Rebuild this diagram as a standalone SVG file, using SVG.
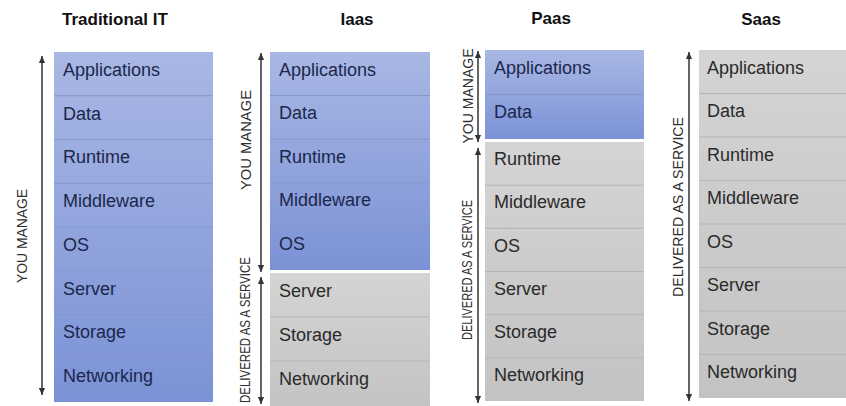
<svg xmlns="http://www.w3.org/2000/svg" width="846" height="406" viewBox="0 0 846 406">
<defs>
  <linearGradient id="blueG" x1="0" y1="0" x2="0" y2="1">
    <stop offset="0" stop-color="#a9b7e3"/>
    <stop offset="1" stop-color="#7b92d6"/>
  </linearGradient>
  <linearGradient id="grayG" x1="0" y1="0" x2="0" y2="1">
    <stop offset="0" stop-color="#d4d4d4"/>
    <stop offset="1" stop-color="#c3c3c3"/>
  </linearGradient>
  <marker id="ah" viewBox="0 0 8 7" markerWidth="7" markerHeight="7" refX="8" refY="3.5" orient="auto-start-reverse" markerUnits="userSpaceOnUse">
    <path d="M0,0 L8,3.5 L0,7 z" fill="#333"/>
  </marker>
  <style>
    .title{font-family:"Liberation Sans",Arial,sans-serif;font-weight:bold;font-size:17px;fill:#111}
    .bt{font-family:"Liberation Sans",Arial,sans-serif;font-size:18px;fill:#1b274d}
    .gt{font-family:"Liberation Sans",Arial,sans-serif;font-size:18px;fill:#2a2a2a}
    .side{font-family:"Liberation Sans",Arial,sans-serif;font-size:15px;fill:#2f2f2f;text-anchor:middle;dominant-baseline:central}
    .bsep{stroke:#8596cc;stroke-width:1}
    .gsep{stroke:#b5b5b5;stroke-width:1}
    .arr{stroke:#333;stroke-width:1.5;fill:none;marker-start:url(#ah);marker-end:url(#ah)}
  </style>
</defs>
<rect width="846" height="406" fill="#ffffff"/>

<!-- Titles -->
<text class="title" x="62" y="25">Traditional IT</text>
<text class="title" x="357" y="25" text-anchor="middle">Iaas</text>
<text class="title" x="551" y="24" text-anchor="middle">Paas</text>
<text class="title" x="761" y="25" text-anchor="middle">Saas</text>

<!-- Traditional IT -->
<g id="traditional-it">
  <rect x="54" y="52" width="159" height="350" fill="url(#blueG)"/>
  <g class="bsep">
    <line x1="54" y1="95.75" x2="213" y2="95.75"/><line x1="54" y1="139.5" x2="213" y2="139.5"/>
    <line x1="54" y1="183.25" x2="213" y2="183.25"/><line x1="54" y1="227" x2="213" y2="227"/>
    <line x1="54" y1="270.75" x2="213" y2="270.75"/><line x1="54" y1="314.5" x2="213" y2="314.5"/>
    <line x1="54" y1="358.25" x2="213" y2="358.25"/>
  </g>
  <g id="trad-applications"><text class="bt" x="63" y="76">Applications</text></g>
  <g id="trad-data"><text class="bt" x="63" y="119.5">Data</text></g>
  <g id="trad-runtime"><text class="bt" x="63" y="163.3">Runtime</text></g>
  <g id="trad-middleware"><text class="bt" x="63" y="207">Middleware</text></g>
  <g id="trad-os"><text class="bt" x="63" y="250.8">OS</text></g>
  <g id="trad-server"><text class="bt" x="63" y="294.5">Server</text></g>
  <g id="trad-storage"><text class="bt" x="63" y="338.3">Storage</text></g>
  <g id="trad-networking"><text class="bt" x="63" y="382">Networking</text></g>
</g>

<!-- IaaS -->
<g id="iaas">
  <rect x="270" y="52" width="160" height="218" fill="url(#blueG)"/>
  <g class="bsep">
    <line x1="270" y1="95.6" x2="430" y2="95.6"/><line x1="270" y1="139.2" x2="430" y2="139.2"/>
    <line x1="270" y1="182.8" x2="430" y2="182.8"/><line x1="270" y1="226.4" x2="430" y2="226.4"/>
  </g>
  <rect x="270" y="273" width="160" height="136" fill="url(#grayG)"/>
  <g class="gsep">
    <line x1="270" y1="317" x2="430" y2="317"/><line x1="270" y1="361" x2="430" y2="361"/>
  </g>
  <g id="iaas-applications"><text class="bt" x="279" y="75.5">Applications</text></g>
  <g id="iaas-data"><text class="bt" x="279" y="119">Data</text></g>
  <g id="iaas-runtime"><text class="bt" x="279" y="162.5">Runtime</text></g>
  <g id="iaas-middleware"><text class="bt" x="279" y="206">Middleware</text></g>
  <g id="iaas-os"><text class="bt" x="279" y="249.7">OS</text></g>
  <g id="iaas-server"><text class="gt" x="279" y="296.5">Server</text></g>
  <g id="iaas-storage"><text class="gt" x="279" y="340.5">Storage</text></g>
  <g id="iaas-networking"><text class="gt" x="279" y="384.5">Networking</text></g>
</g>

<!-- PaaS -->
<g id="paas">
  <rect x="485" y="50" width="159" height="89" fill="url(#blueG)"/>
  <line class="bsep" x1="485" y1="94.5" x2="644" y2="94.5"/>
  <rect x="485" y="142" width="159" height="259" fill="url(#grayG)"/>
  <g class="gsep">
    <line x1="485" y1="185.2" x2="644" y2="185.2"/><line x1="485" y1="228.3" x2="644" y2="228.3"/>
    <line x1="485" y1="271.5" x2="644" y2="271.5"/><line x1="485" y1="314.7" x2="644" y2="314.7"/>
    <line x1="485" y1="357.8" x2="644" y2="357.8"/>
  </g>
  <g id="paas-applications"><text class="bt" x="494" y="74">Applications</text></g>
  <g id="paas-data"><text class="bt" x="494" y="118.3">Data</text></g>
  <g id="paas-runtime"><text class="gt" x="494" y="165.2">Runtime</text></g>
  <g id="paas-middleware"><text class="gt" x="494" y="208.3">Middleware</text></g>
  <g id="paas-os"><text class="gt" x="494" y="251.5">OS</text></g>
  <g id="paas-server"><text class="gt" x="494" y="294.7">Server</text></g>
  <g id="paas-storage"><text class="gt" x="494" y="337.8">Storage</text></g>
  <g id="paas-networking"><text class="gt" x="494" y="381">Networking</text></g>
</g>

<!-- SaaS -->
<g id="saas">
  <rect x="699" y="50" width="147" height="348" fill="url(#grayG)"/>
  <g class="gsep">
    <line x1="699" y1="93.5" x2="846" y2="93.5"/><line x1="699" y1="137" x2="846" y2="137"/>
    <line x1="699" y1="180.5" x2="846" y2="180.5"/><line x1="699" y1="224" x2="846" y2="224"/>
    <line x1="699" y1="267.5" x2="846" y2="267.5"/><line x1="699" y1="311" x2="846" y2="311"/>
    <line x1="699" y1="354.5" x2="846" y2="354.5"/>
  </g>
  <g id="saas-applications"><text class="gt" x="707" y="73.5">Applications</text></g>
  <g id="saas-data"><text class="gt" x="707" y="117">Data</text></g>
  <g id="saas-runtime"><text class="gt" x="707" y="160.5">Runtime</text></g>
  <g id="saas-middleware"><text class="gt" x="707" y="204">Middleware</text></g>
  <g id="saas-os"><text class="gt" x="707" y="247.5">OS</text></g>
  <g id="saas-server"><text class="gt" x="707" y="291">Server</text></g>
  <g id="saas-storage"><text class="gt" x="707" y="334.5">Storage</text></g>
  <g id="saas-networking"><text class="gt" x="707" y="378">Networking</text></g>
</g>

<!-- Connectors (range arrows) -->
<g id="connectors">
  <line class="arr" x1="42" y1="56" x2="42" y2="395"/>
  <line class="arr" x1="261" y1="53" x2="261" y2="272"/>
  <line class="arr" x1="261" y1="277" x2="261" y2="404"/>
  <line class="arr" x1="478" y1="51" x2="478" y2="142"/>
  <line class="arr" x1="478" y1="148" x2="478" y2="403"/>
  <line class="arr" x1="689" y1="52" x2="689" y2="401"/>
</g>

<!-- Side labels -->
<g id="labels">
  <text class="side" transform="translate(21,236) rotate(-90)" textLength="94" lengthAdjust="spacingAndGlyphs">YOU MANAGE</text>
  <text class="side" transform="translate(245,140) rotate(-90)" textLength="100" lengthAdjust="spacingAndGlyphs">YOU MANAGE</text>
  <text class="side" transform="translate(244,330) rotate(-90)" textLength="146" lengthAdjust="spacingAndGlyphs">DELIVERED AS A SERVICE</text>
  <text class="side" transform="translate(467,96) rotate(-90)" textLength="95" lengthAdjust="spacingAndGlyphs">YOU MANAGE</text>
  <text class="side" transform="translate(466,270) rotate(-90)" textLength="140" lengthAdjust="spacingAndGlyphs">DELIVERED AS A SERVICE</text>
  <text class="side" transform="translate(677,207) rotate(-90)" textLength="180" lengthAdjust="spacingAndGlyphs">DELIVERED AS A SERVICE</text>
</g>
</svg>
